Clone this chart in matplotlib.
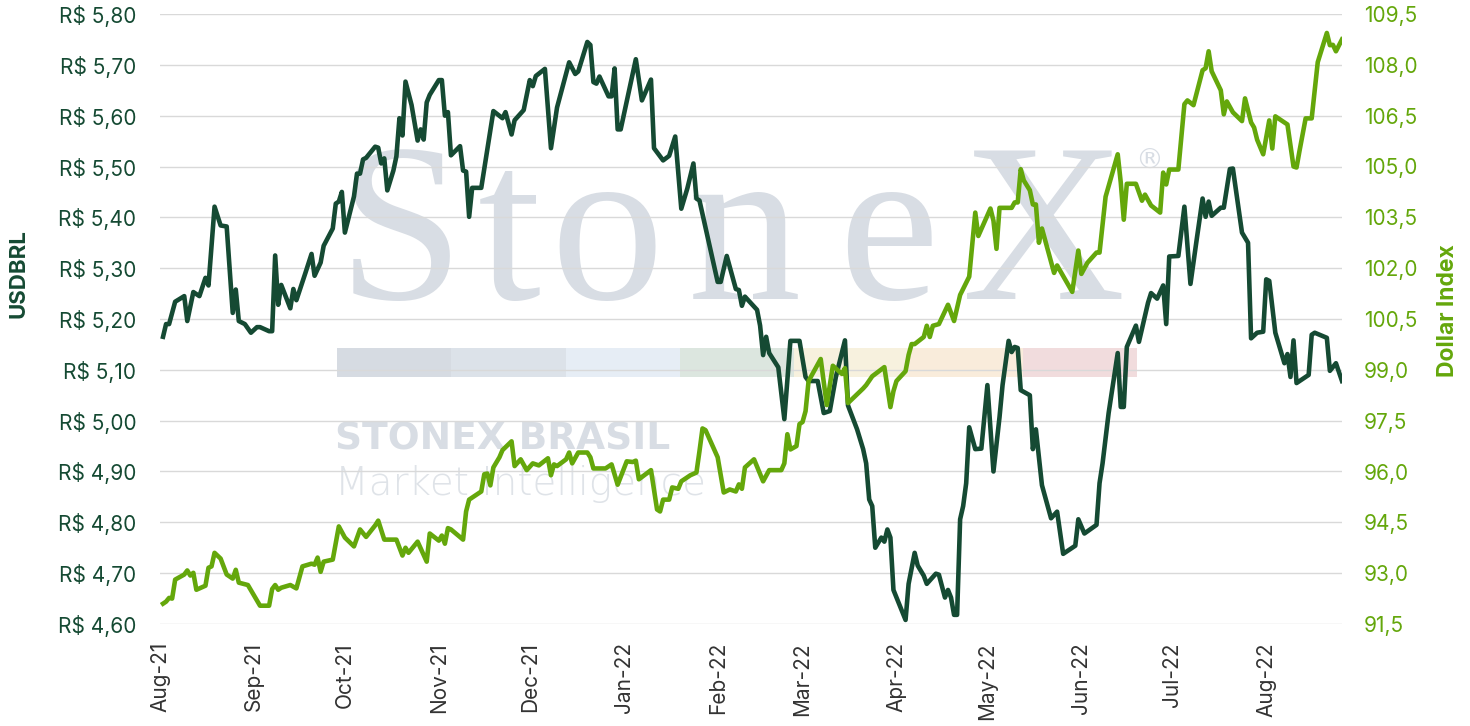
import numpy as np
import pandas as pd
import matplotlib
matplotlib.use("Agg")
import matplotlib.pyplot as plt
import matplotlib.dates as mdates
from matplotlib.ticker import FixedLocator, FuncFormatter
from matplotlib.patches import Rectangle

# Dados
usd_dates = [
    "2021-08-02", "2021-08-03", "2021-08-04", "2021-08-06", "2021-08-09", "2021-08-10", "2021-08-12",
    "2021-08-14", "2021-08-16", "2021-08-17", "2021-08-19", "2021-08-21", "2021-08-23", "2021-08-25",
    "2021-08-26", "2021-08-27", "2021-08-29", "2021-08-31", "2021-09-02", "2021-09-03", "2021-09-06",
    "2021-09-07", "2021-09-08", "2021-09-09", "2021-09-10", "2021-09-13", "2021-09-14", "2021-09-15",
    "2021-09-18", "2021-09-20", "2021-09-21", "2021-09-23", "2021-09-24", "2021-09-27", "2021-09-28",
    "2021-09-29", "2021-09-30", "2021-10-01", "2021-10-04", "2021-10-05", "2021-10-06", "2021-10-07",
    "2021-10-08", "2021-10-11", "2021-10-12", "2021-10-13", "2021-10-14", "2021-10-15", "2021-10-17",
    "2021-10-18", "2021-10-19", "2021-10-20", "2021-10-21", "2021-10-23", "2021-10-25", "2021-10-26",
    "2021-10-27", "2021-10-28", "2021-10-29", "2021-11-01", "2021-11-02", "2021-11-03", "2021-11-04",
    "2021-11-05", "2021-11-08", "2021-11-09", "2021-11-10", "2021-11-11", "2021-11-12", "2021-11-15",
    "2021-11-19", "2021-11-22", "2021-11-23", "2021-11-25", "2021-11-26", "2021-11-29", "2021-12-01",
    "2021-12-02", "2021-12-03", "2021-12-06", "2021-12-08", "2021-12-10", "2021-12-14", "2021-12-16",
    "2021-12-17", "2021-12-20", "2021-12-21", "2021-12-22", "2021-12-23", "2021-12-24", "2021-12-27",
    "2021-12-28", "2021-12-29", "2021-12-30", "2021-12-31", "2022-01-05", "2022-01-07", "2022-01-10",
    "2022-01-11", "2022-01-14", "2022-01-16", "2022-01-18", "2022-01-20", "2022-01-22", "2022-01-24",
    "2022-01-25", "2022-01-26", "2022-02-01", "2022-02-02", "2022-02-04", "2022-02-07", "2022-02-08",
    "2022-02-09", "2022-02-10", "2022-02-14", "2022-02-15", "2022-02-16", "2022-02-17", "2022-02-18",
    "2022-02-21", "2022-02-23", "2022-02-25", "2022-02-28", "2022-03-02", "2022-03-03", "2022-03-06",
    "2022-03-08", "2022-03-10", "2022-03-12", "2022-03-15", "2022-03-16", "2022-03-19", "2022-03-21",
    "2022-03-22", "2022-03-23", "2022-03-24", "2022-03-25", "2022-03-27", "2022-03-28", "2022-03-29",
    "2022-03-30", "2022-03-31", "2022-04-04", "2022-04-05", "2022-04-07", "2022-04-08", "2022-04-10",
    "2022-04-11", "2022-04-14", "2022-04-15", "2022-04-17", "2022-04-18", "2022-04-19", "2022-04-20",
    "2022-04-21", "2022-04-22", "2022-04-23", "2022-04-24", "2022-04-25", "2022-04-27", "2022-04-29",
    "2022-05-01", "2022-05-03", "2022-05-05", "2022-05-06", "2022-05-08", "2022-05-09", "2022-05-10",
    "2022-05-11", "2022-05-12", "2022-05-15", "2022-05-16", "2022-05-17", "2022-05-19", "2022-05-22",
    "2022-05-24", "2022-05-26", "2022-05-30", "2022-05-31", "2022-06-02", "2022-06-06", "2022-06-07",
    "2022-06-08", "2022-06-10", "2022-06-13", "2022-06-14", "2022-06-15", "2022-06-16", "2022-06-19",
    "2022-06-20", "2022-06-23", "2022-06-24", "2022-06-26", "2022-06-28", "2022-06-29", "2022-06-30",
    "2022-07-03", "2022-07-05", "2022-07-07", "2022-07-09", "2022-07-11", "2022-07-12", "2022-07-13",
    "2022-07-14", "2022-07-17", "2022-07-18", "2022-07-20", "2022-07-21", "2022-07-24", "2022-07-26",
    "2022-07-27", "2022-07-29", "2022-07-31", "2022-08-01", "2022-08-02", "2022-08-04", "2022-08-07",
    "2022-08-08", "2022-08-09", "2022-08-10", "2022-08-11", "2022-08-15", "2022-08-16", "2022-08-17",
    "2022-08-21", "2022-08-22", "2022-08-24", "2022-08-26",
]
usd_values = [
    5.165, 5.19, 5.19, 5.234, 5.245, 5.196, 5.253,
    5.245, 5.281, 5.266, 5.421, 5.384, 5.382, 5.212,
    5.258, 5.196, 5.19, 5.173, 5.184, 5.184, 5.176,
    5.176, 5.325, 5.228, 5.267, 5.221, 5.259, 5.237,
    5.291, 5.328, 5.285, 5.311, 5.344, 5.378, 5.427,
    5.431, 5.45, 5.37, 5.441, 5.486, 5.486, 5.514,
    5.517, 5.539, 5.537, 5.506, 5.516, 5.453, 5.492,
    5.52, 5.595, 5.561, 5.667, 5.621, 5.551, 5.573,
    5.553, 5.626, 5.641, 5.670, 5.670, 5.600, 5.607,
    5.522, 5.54, 5.492, 5.49, 5.401, 5.458, 5.458,
    5.609, 5.595, 5.607, 5.563, 5.591, 5.611, 5.670,
    5.658, 5.678, 5.692, 5.536, 5.616, 5.705, 5.682,
    5.687, 5.745, 5.739, 5.666, 5.663, 5.677, 5.638,
    5.638, 5.693, 5.573, 5.573, 5.711, 5.63, 5.671,
    5.536, 5.512, 5.521, 5.559, 5.417, 5.457, 5.506,
    5.437, 5.433, 5.273, 5.273, 5.324, 5.259, 5.257,
    5.226, 5.244, 5.218, 5.187, 5.129, 5.165, 5.133,
    5.105, 5.003, 5.157, 5.157, 5.086, 5.078, 5.078,
    5.015, 5.019, 5.086, 5.158, 5.03, 4.983, 4.944,
    4.916, 4.845, 4.832, 4.75, 4.77, 4.762, 4.786,
    4.77, 4.667, 4.608, 4.679, 4.74, 4.715, 4.695,
    4.679, 4.699, 4.697, 4.652, 4.667, 4.652, 4.618,
    4.618, 4.806, 4.832, 4.877, 4.987, 4.944, 4.945,
    5.07, 4.90, 5.007, 5.07, 5.157, 5.135, 5.145,
    5.143, 5.06, 5.05, 4.944, 4.983, 4.873, 4.808,
    4.821, 4.738, 4.754, 4.806, 4.778, 4.795, 4.877,
    4.916, 5.015, 5.133, 5.027, 5.027, 5.145, 5.187,
    5.155, 5.232, 5.251, 5.24, 5.266, 5.19, 5.323,
    5.324, 5.421, 5.269, 5.354, 5.437, 5.401, 5.431,
    5.403, 5.419, 5.419, 5.495, 5.496, 5.37, 5.35,
    5.162, 5.173, 5.175, 5.278, 5.275, 5.173, 5.113,
    5.131, 5.086, 5.158, 5.074, 5.09, 5.169, 5.173,
    5.163, 5.098, 5.113, 5.078,
]

dxy_dates = [
    "2021-08-02", "2021-08-03", "2021-08-04", "2021-08-05", "2021-08-06", "2021-08-09", "2021-08-10",
    "2021-08-11", "2021-08-12", "2021-08-13", "2021-08-16", "2021-08-17", "2021-08-18", "2021-08-19",
    "2021-08-21", "2021-08-23", "2021-08-25", "2021-08-26", "2021-08-27", "2021-08-30", "2021-09-03",
    "2021-09-06", "2021-09-07", "2021-09-08", "2021-09-09", "2021-09-10", "2021-09-13", "2021-09-15",
    "2021-09-17", "2021-09-20", "2021-09-21", "2021-09-22", "2021-09-23", "2021-09-24", "2021-09-27",
    "2021-09-29", "2021-10-01", "2021-10-04", "2021-10-06", "2021-10-08", "2021-10-11", "2021-10-12",
    "2021-10-14", "2021-10-18", "2021-10-20", "2021-10-21", "2021-10-22", "2021-10-25", "2021-10-28",
    "2021-10-29", "2021-11-01", "2021-11-02", "2021-11-03", "2021-11-04", "2021-11-05", "2021-11-09",
    "2021-11-10", "2021-11-11", "2021-11-15", "2021-11-16", "2021-11-17", "2021-11-18", "2021-11-19",
    "2021-11-21", "2021-11-22", "2021-11-25", "2021-11-26", "2021-11-28", "2021-11-30", "2021-12-02",
    "2021-12-04", "2021-12-07", "2021-12-08", "2021-12-09", "2021-12-10", "2021-12-13", "2021-12-14",
    "2021-12-15", "2021-12-17", "2021-12-20", "2021-12-21", "2021-12-22", "2021-12-26", "2021-12-28",
    "2021-12-30", "2022-01-02", "2022-01-04", "2022-01-05", "2022-01-06", "2022-01-10", "2022-01-12",
    "2022-01-13", "2022-01-14", "2022-01-16", "2022-01-17", "2022-01-19", "2022-01-20", "2022-01-23",
    "2022-01-25", "2022-01-26", "2022-01-27", "2022-01-28", "2022-02-01", "2022-02-03", "2022-02-05",
    "2022-02-07", "2022-02-08", "2022-02-09", "2022-02-10", "2022-02-13", "2022-02-16", "2022-02-18",
    "2022-02-22", "2022-02-23", "2022-02-24", "2022-02-25", "2022-02-27", "2022-02-28", "2022-03-01",
    "2022-03-02", "2022-03-03", "2022-03-07", "2022-03-09", "2022-03-11", "2022-03-14", "2022-03-15",
    "2022-03-16", "2022-03-21", "2022-03-22", "2022-03-24", "2022-03-28", "2022-03-30", "2022-03-31",
    "2022-04-01", "2022-04-04", "2022-04-05", "2022-04-06", "2022-04-07", "2022-04-10", "2022-04-11",
    "2022-04-12", "2022-04-13", "2022-04-15", "2022-04-18", "2022-04-20", "2022-04-22", "2022-04-25",
    "2022-04-26", "2022-04-27", "2022-04-28", "2022-05-02", "2022-05-03", "2022-05-04", "2022-05-05",
    "2022-05-09", "2022-05-10", "2022-05-11", "2022-05-12", "2022-05-13", "2022-05-15", "2022-05-16",
    "2022-05-17", "2022-05-18", "2022-05-19", "2022-05-23", "2022-05-24", "2022-05-29", "2022-05-31",
    "2022-06-01", "2022-06-03", "2022-06-06", "2022-06-07", "2022-06-09", "2022-06-13", "2022-06-14",
    "2022-06-15", "2022-06-16", "2022-06-19", "2022-06-21", "2022-06-22", "2022-06-24", "2022-06-27",
    "2022-06-28", "2022-06-29", "2022-06-30", "2022-07-03", "2022-07-05", "2022-07-06", "2022-07-08",
    "2022-07-11", "2022-07-12", "2022-07-13", "2022-07-14", "2022-07-17", "2022-07-18", "2022-07-19",
    "2022-07-21", "2022-07-24", "2022-07-25", "2022-07-27", "2022-07-28", "2022-07-29", "2022-07-31",
    "2022-08-02", "2022-08-03", "2022-08-04", "2022-08-08", "2022-08-10", "2022-08-11", "2022-08-12",
    "2022-08-14", "2022-08-16", "2022-08-18", "2022-08-21", "2022-08-22", "2022-08-23", "2022-08-24",
    "2022-08-26",
]
dxy_values = [
    92.10, 92.16, 92.27, 92.25, 92.81, 92.96, 93.08,
    92.93, 93.01, 92.51, 92.63, 93.16, 93.20, 93.60,
    93.43, 92.96, 92.84, 93.10, 92.72, 92.65, 92.04,
    92.04, 92.53, 92.65, 92.51, 92.57, 92.65, 92.55,
    93.20, 93.28, 93.25, 93.46, 93.04, 93.34, 93.40,
    94.38, 94.05, 93.79, 94.29, 94.07, 94.41, 94.55,
    93.99, 93.99, 93.52, 93.75, 93.60, 93.93, 93.34,
    94.17, 93.96, 94.11, 93.87, 94.33, 94.29, 93.99,
    94.82, 95.17, 95.41, 95.92, 95.94, 95.59, 96.12,
    96.42, 96.63, 96.89, 96.16, 96.36, 96.04, 96.24,
    96.18, 96.39, 95.89, 96.21, 96.16, 96.36, 96.56,
    96.24, 96.56, 96.56, 96.42, 96.09, 96.09, 96.21,
    95.61, 96.30, 96.28, 96.32, 95.77, 96.04, 94.88,
    94.82, 95.17, 95.17, 95.53, 95.49, 95.71, 95.89,
    95.97, 96.60, 97.27, 97.22, 96.42, 95.38, 95.47,
    95.41, 95.62, 95.49, 96.12, 96.36, 95.71, 96.04,
    96.04, 96.24, 97.10, 96.65, 96.75, 97.40, 97.46,
    97.78, 98.67, 99.32, 97.96, 99.12, 98.88, 99.05,
    98.02, 98.45, 98.55, 98.81, 99.08, 97.90, 98.37,
    98.67, 98.96, 99.44, 99.76, 99.76, 99.97, 100.30,
    99.97, 100.30, 100.35, 100.92, 100.44, 101.21, 101.75,
    102.69, 103.64, 102.95, 103.76, 103.40, 102.57, 103.78,
    103.78, 103.94, 103.94, 104.92, 104.59, 104.30, 103.88,
    103.88, 102.75, 103.17, 101.86, 102.08, 101.30, 102.52,
    101.83, 102.16, 102.46, 102.46, 104.11, 105.36, 104.53,
    103.43, 104.49, 104.49, 103.99, 104.17, 103.85, 103.64,
    104.82, 104.47, 104.91, 104.91, 106.84, 106.95, 106.81,
    107.84, 107.90, 108.40, 107.81, 107.25, 106.54, 106.92,
    106.60, 106.34, 107.01, 106.30, 106.15, 105.79, 105.36,
    106.36, 105.53, 106.48, 106.24, 105.00, 104.97, 105.47,
    106.42, 106.42, 108.08, 108.94, 108.58, 108.59, 108.40,
    108.75,
]

usd_ticks = [4.60, 4.70, 4.80, 4.90, 5.00, 5.10, 5.20, 5.30, 5.40, 5.50, 5.60, 5.70, 5.80]
dxy_ticks = [91.5, 93.0, 94.5, 96.0, 97.5, 99.0, 100.5, 102.0, 103.5, 105.0, 106.5, 108.0, 109.5]

usd_color = '#154a33'
dxy_color = '#64a70b'
font = 'Inter'
W, H = 1470, 726

usd_x = pd.to_datetime(usd_dates)
dxy_x = pd.to_datetime(dxy_dates)

# Figura
fig = plt.figure(figsize=(W / 100, H / 100), dpi=100)
fig.patch.set_facecolor('white')
ax = fig.add_axes([160 / W, 102 / H, 1182 / W, 610 / H])
ax.patch.set_visible(False)

# Marca d'água
wm = '#d8dde4'
for ch, px in zip('StoneX', [338, 478, 550, 688, 838, 962]):
    fig.text(px / W, 1 - 299 / H, ch, family='Liberation Serif', fontsize=163,
             color=wm, ha='left', va='baseline', zorder=-5)
fig.text(1149 / W, 1 - 161 / H, '®', family='DejaVu Sans', fontsize=20,
         color=wm, ha='center', va='center', zorder=-5)
band = ['#d6dbe2', '#dce2e9', '#e6edf5', '#dce6df', '#f7f1de', '#f9ecdb', '#f1dcdd']
for i, c in enumerate(band):
    fig.patches.append(Rectangle(((337 + i * 114.3) / W, 1 - 377 / H), 114.3 / W, 29 / H,
                                 transform=fig.transFigure, facecolor=c, edgecolor='none', zorder=-5))
fig.text(335 / W, 1 - 449 / H, 'STONEX BRASIL', family='DejaVu Sans', fontweight='bold',
         fontsize=27, color=wm, ha='left', va='baseline', zorder=-5)
fig.text(335 / W, 1 - 495 / H, 'Market Intelligence', family='DejaVu Sans', fontweight='light',
         fontsize=28, color='#dfe3e8', ha='left', va='baseline', zorder=-5)

# USDBRL
ax.plot(usd_x, usd_values, color=usd_color, linewidth=3.3, solid_joinstyle='round', zorder=3)
ax.set_ylim(4.60, 5.80)
ax.yaxis.set_major_locator(FixedLocator(usd_ticks))
ax.yaxis.set_major_formatter(FuncFormatter(lambda v, p: 'R$ ' + f'{v:.2f}'.replace('.', ',')))
ax.grid(axis='y', color='#d9d9d9', linewidth=1)
ax.set_axisbelow(True)
xmin, xmax = pd.Timestamp('2021-08-01'), usd_x[-1]
ax.set_xlim(xmin, xmax)
ax.xaxis.set_major_locator(mdates.MonthLocator())
ax.xaxis.set_major_formatter(mdates.DateFormatter('%b-%y'))
ax.tick_params(axis='x', length=0, pad=13, labelrotation=90, labelsize=15, labelcolor='#333333')
ax.tick_params(axis='y', length=0, pad=17, labelsize=15, labelcolor=usd_color)
for lab in ax.get_xticklabels() + ax.get_yticklabels():
    lab.set_family(font)
ax.set_ylabel('USDBRL', family=font, fontweight='bold', fontsize=16, color=usd_color)
ax.yaxis.set_label_coords((29 - 160) / 1182, (624 - 274) / 610)
for s in ax.spines.values():
    s.set_visible(False)

# Dollar Index
ax2 = ax.twinx()
ax2.plot(dxy_x, dxy_values, color=dxy_color, linewidth=3.3, solid_joinstyle='round', zorder=3)
ax2.set_ylim(91.5, 109.5)
ax2.yaxis.set_major_locator(FixedLocator(dxy_ticks))
ax2.yaxis.set_major_formatter(FuncFormatter(lambda v, p: f'{v:.1f}'.replace('.', ',')))
ax2.tick_params(axis='y', length=0, pad=16, labelsize=15, labelcolor=dxy_color)
for lab in ax2.get_yticklabels():
    lab.set_family(font)
ax2.set_ylabel('Dollar Index', family=font, fontweight='bold', fontsize=16.5, color=dxy_color)
ax2.yaxis.set_label_coords((1437 - 160) / 1182, (624 - 311) / 610)
for s in ax2.spines.values():
    s.set_visible(False)
ax2.set_xlim(xmin, xmax)

fig.savefig('out.png', dpi=100, facecolor='white')
